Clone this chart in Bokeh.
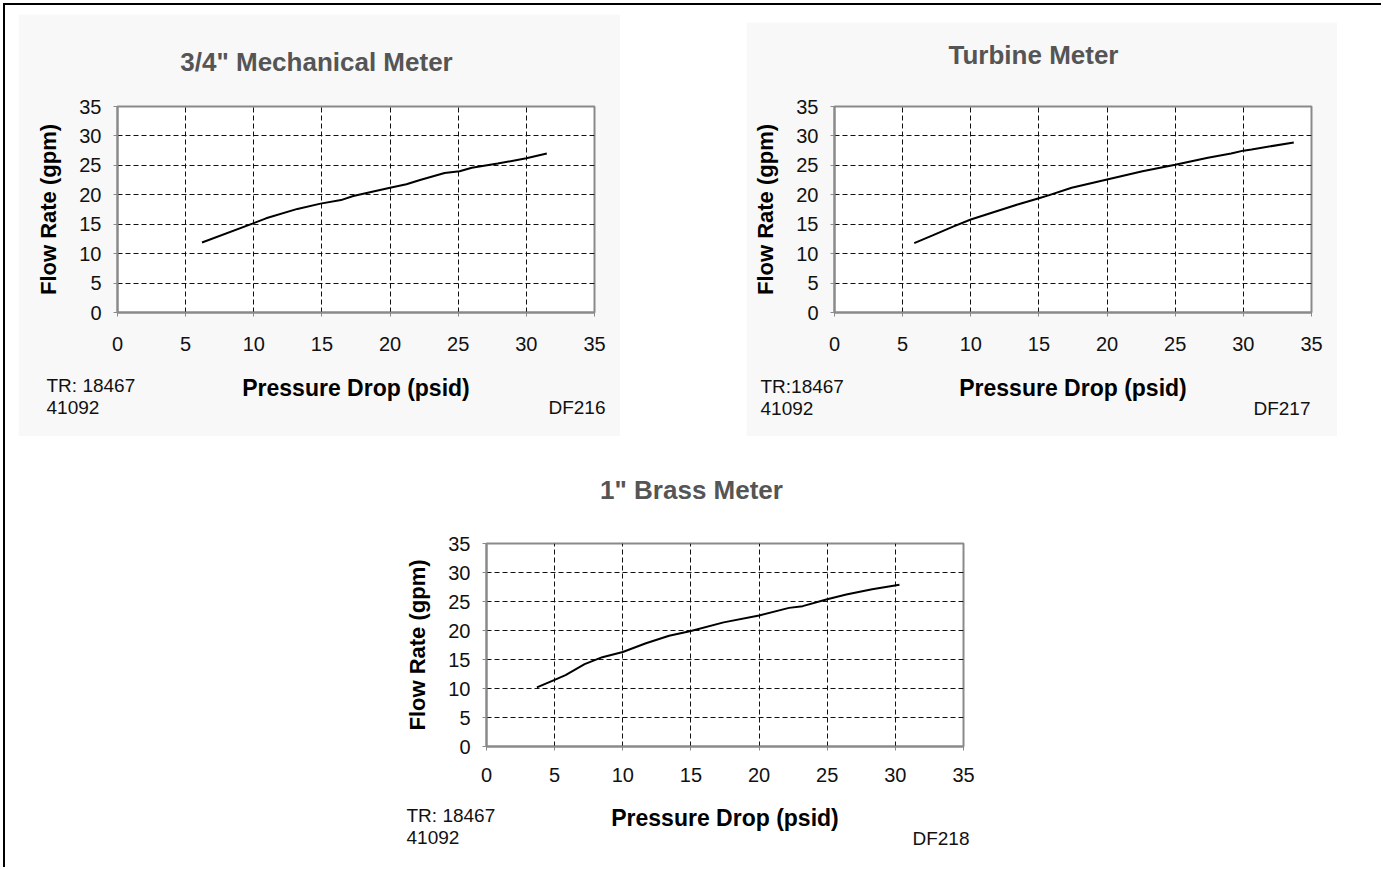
from bokeh.plotting import figure
from bokeh.models import Range1d, FixedTicker, Label, Spacer
from bokeh.layouts import column, row
from bokeh.embed import file_html
from bokeh.resources import INLINE

# ---- data ----
ticks = [0, 5, 10, 15, 20, 25, 30, 35]
grid_ticks = [5, 10, 15, 20, 25, 30]

mech_x = [6.2, 9.9, 10.9, 13.2, 14.9, 16.4, 17.3, 20.0, 21.2, 22.2, 24.0, 25.1, 26.0, 27.9, 30.0, 31.5]
mech_y = [11.9, 15.1, 16.0, 17.6, 18.5, 19.1, 19.8, 21.2, 21.8, 22.5, 23.7, 24.0, 24.6, 25.3, 26.2, 27.0]

turb_x = [5.85, 7.2, 8.7, 10.0, 11.6, 13.5, 15.0, 15.7, 17.4, 20.0, 22.6, 25.0, 27.4, 29.1, 30.0, 30.6, 33.7]
turb_y = [11.8, 13.1, 14.6, 15.8, 17.0, 18.4, 19.4, 19.9, 21.2, 22.6, 24.0, 25.1, 26.3, 27.0, 27.5, 27.7, 28.9]

brass_x = [3.7, 5.0, 5.8, 7.2, 8.5, 10.0, 11.7, 13.4, 15.0, 17.4, 20.0, 22.2, 23.2, 25.0, 26.4, 28.3, 30.3]
brass_y = [10.2, 11.5, 12.3, 14.2, 15.4, 16.3, 17.8, 19.1, 19.9, 21.4, 22.6, 23.9, 24.2, 25.4, 26.2, 27.1, 27.9]

titles = ['3/4" Mechanical Meter', 'Turbine Meter', '1" Brass Meter']
tr_labels = ["TR: 18467", "TR:18467", "TR: 18467"]
id_labels = ["41092", "41092", "41092"]
df_labels = ["DF216", "DF217", "DF218"]
x_title = "Pressure Drop (psid)"
y_title = "Flow Rate (gpm)"

FONT = "Liberation Sans"


def make_panel(xs, ys, title, tr, idl, df, fig_left, fig_top, width, height,
               mbl, mbr, mbt, mbb, title_c, tr_c, id_c, df_c,
               xlab_standoff, xtitle_standoff, bg):
    p = figure(width=width, height=height, output_backend="svg", toolbar_location=None,
               x_range=Range1d(0, 35), y_range=Range1d(0, 35),
               min_border_left=mbl, min_border_right=mbr,
               min_border_top=mbt, min_border_bottom=mbb,
               background_fill_color="white", border_fill_color=bg)
    p.outline_line_color = "#8a8a8a"
    p.outline_line_width = 2

    for ax in (p.xaxis[0], p.yaxis[0]):
        ax.ticker = FixedTicker(ticks=ticks)
        ax.axis_line_color = "#8a8a8a"
        ax.axis_line_width = 2
        ax.major_tick_line_color = "#8a8a8a"
        ax.major_tick_out = 4
        ax.major_tick_in = 0
        ax.minor_tick_line_color = None
        ax.major_label_text_font = FONT
        ax.major_label_text_font_size = "20px"
        ax.major_label_text_color = "#111111"
        ax.axis_label_text_font = FONT
        ax.axis_label_text_font_style = "bold"
        ax.axis_label_text_color = "#000000"

    p.xaxis[0].axis_label = x_title
    p.xaxis[0].axis_label_text_font_size = "23px"
    p.yaxis[0].axis_label = y_title
    p.yaxis[0].axis_label_text_font_size = "22px"
    p.xaxis[0].major_label_standoff = xlab_standoff
    p.xaxis[0].axis_label_standoff = xtitle_standoff
    p.yaxis[0].major_label_standoff = 12
    p.yaxis[0].axis_label_standoff = 15

    for g in (p.xgrid[0], p.ygrid[0]):
        g.ticker = FixedTicker(ticks=grid_ticks)
        g.grid_line_color = "#111111"
        g.grid_line_width = 1
        g.grid_line_dash = "5 3"

    p.line(xs, ys, line_color="black", line_width=2)

    def add(pt, text, size, align, side, bold=False, color="#111111"):
        # canvas units: pixels from the figure's top-left corner
        p.add_layout(Label(x=pt[0] - fig_left, y=pt[1] - fig_top,
                           x_units="canvas", y_units="canvas",
                           text=text, text_font=FONT, text_font_size=size,
                           text_font_style="bold" if bold else "normal",
                           text_color=color, text_align=align,
                           text_baseline="middle"), side)

    add(title_c, title, "26px", "center", "above", bold=True, color="#555555")
    add(tr_c, tr, "19px", "left", "above")
    add(id_c, idl, "19px", "left", "above")
    add(df_c, df, "19px", "right", "below")
    return p


# page coordinates (page has no margin)
p1 = make_panel(mech_x, mech_y, titles[0], tr_labels[0], id_labels[0], df_labels[0],
                fig_left=18, fig_top=14, width=602, height=422,
                mbl=99, mbr=26, mbt=92, mbb=124,
                title_c=(316, 61), tr_c=(46, 385), id_c=(46, 407), df_c=(605, 407),
                xlab_standoff=20, xtitle_standoff=21, bg="#f8f8f8")

p2 = make_panel(turb_x, turb_y, titles[1], tr_labels[1], id_labels[1], df_labels[1],
                fig_left=746, fig_top=22, width=591, height=414,
                mbl=88, mbr=26, mbt=84, mbb=124,
                title_c=(1033, 54), tr_c=(760, 386), id_c=(760, 408), df_c=(1310, 408),
                xlab_standoff=20, xtitle_standoff=21, bg="#f8f8f8")

p3 = make_panel(brass_x, brass_y, titles[2], tr_labels[2], id_labels[2], df_labels[2],
                fig_left=386, fig_top=440, width=603, height=426,
                mbl=100, mbr=26, mbt=103, mbb=120,
                title_c=(691, 489), tr_c=(406, 815), id_c=(406, 837), df_c=(969, 838),
                xlab_standoff=17, xtitle_standoff=20, bg="white")

# content origin is at page (5, 5), after the black frame lines
row1 = row(Spacer(width=13), column(Spacer(height=9), p1), Spacer(width=126),
           column(Spacer(height=17), p2))
row2 = column(Spacer(height=4), row(Spacer(width=381), p3))
content = column(row1, row2)

top_line = Spacer(width=1378, height=2, styles={"background-color": "#000000"})
left_line = Spacer(width=2, height=862, styles={"background-color": "#000000"})
layout = column(Spacer(height=3),
                row(Spacer(width=3), column(top_line, row(left_line, content))))

open("out.html", "w").write(file_html(layout, INLINE))
